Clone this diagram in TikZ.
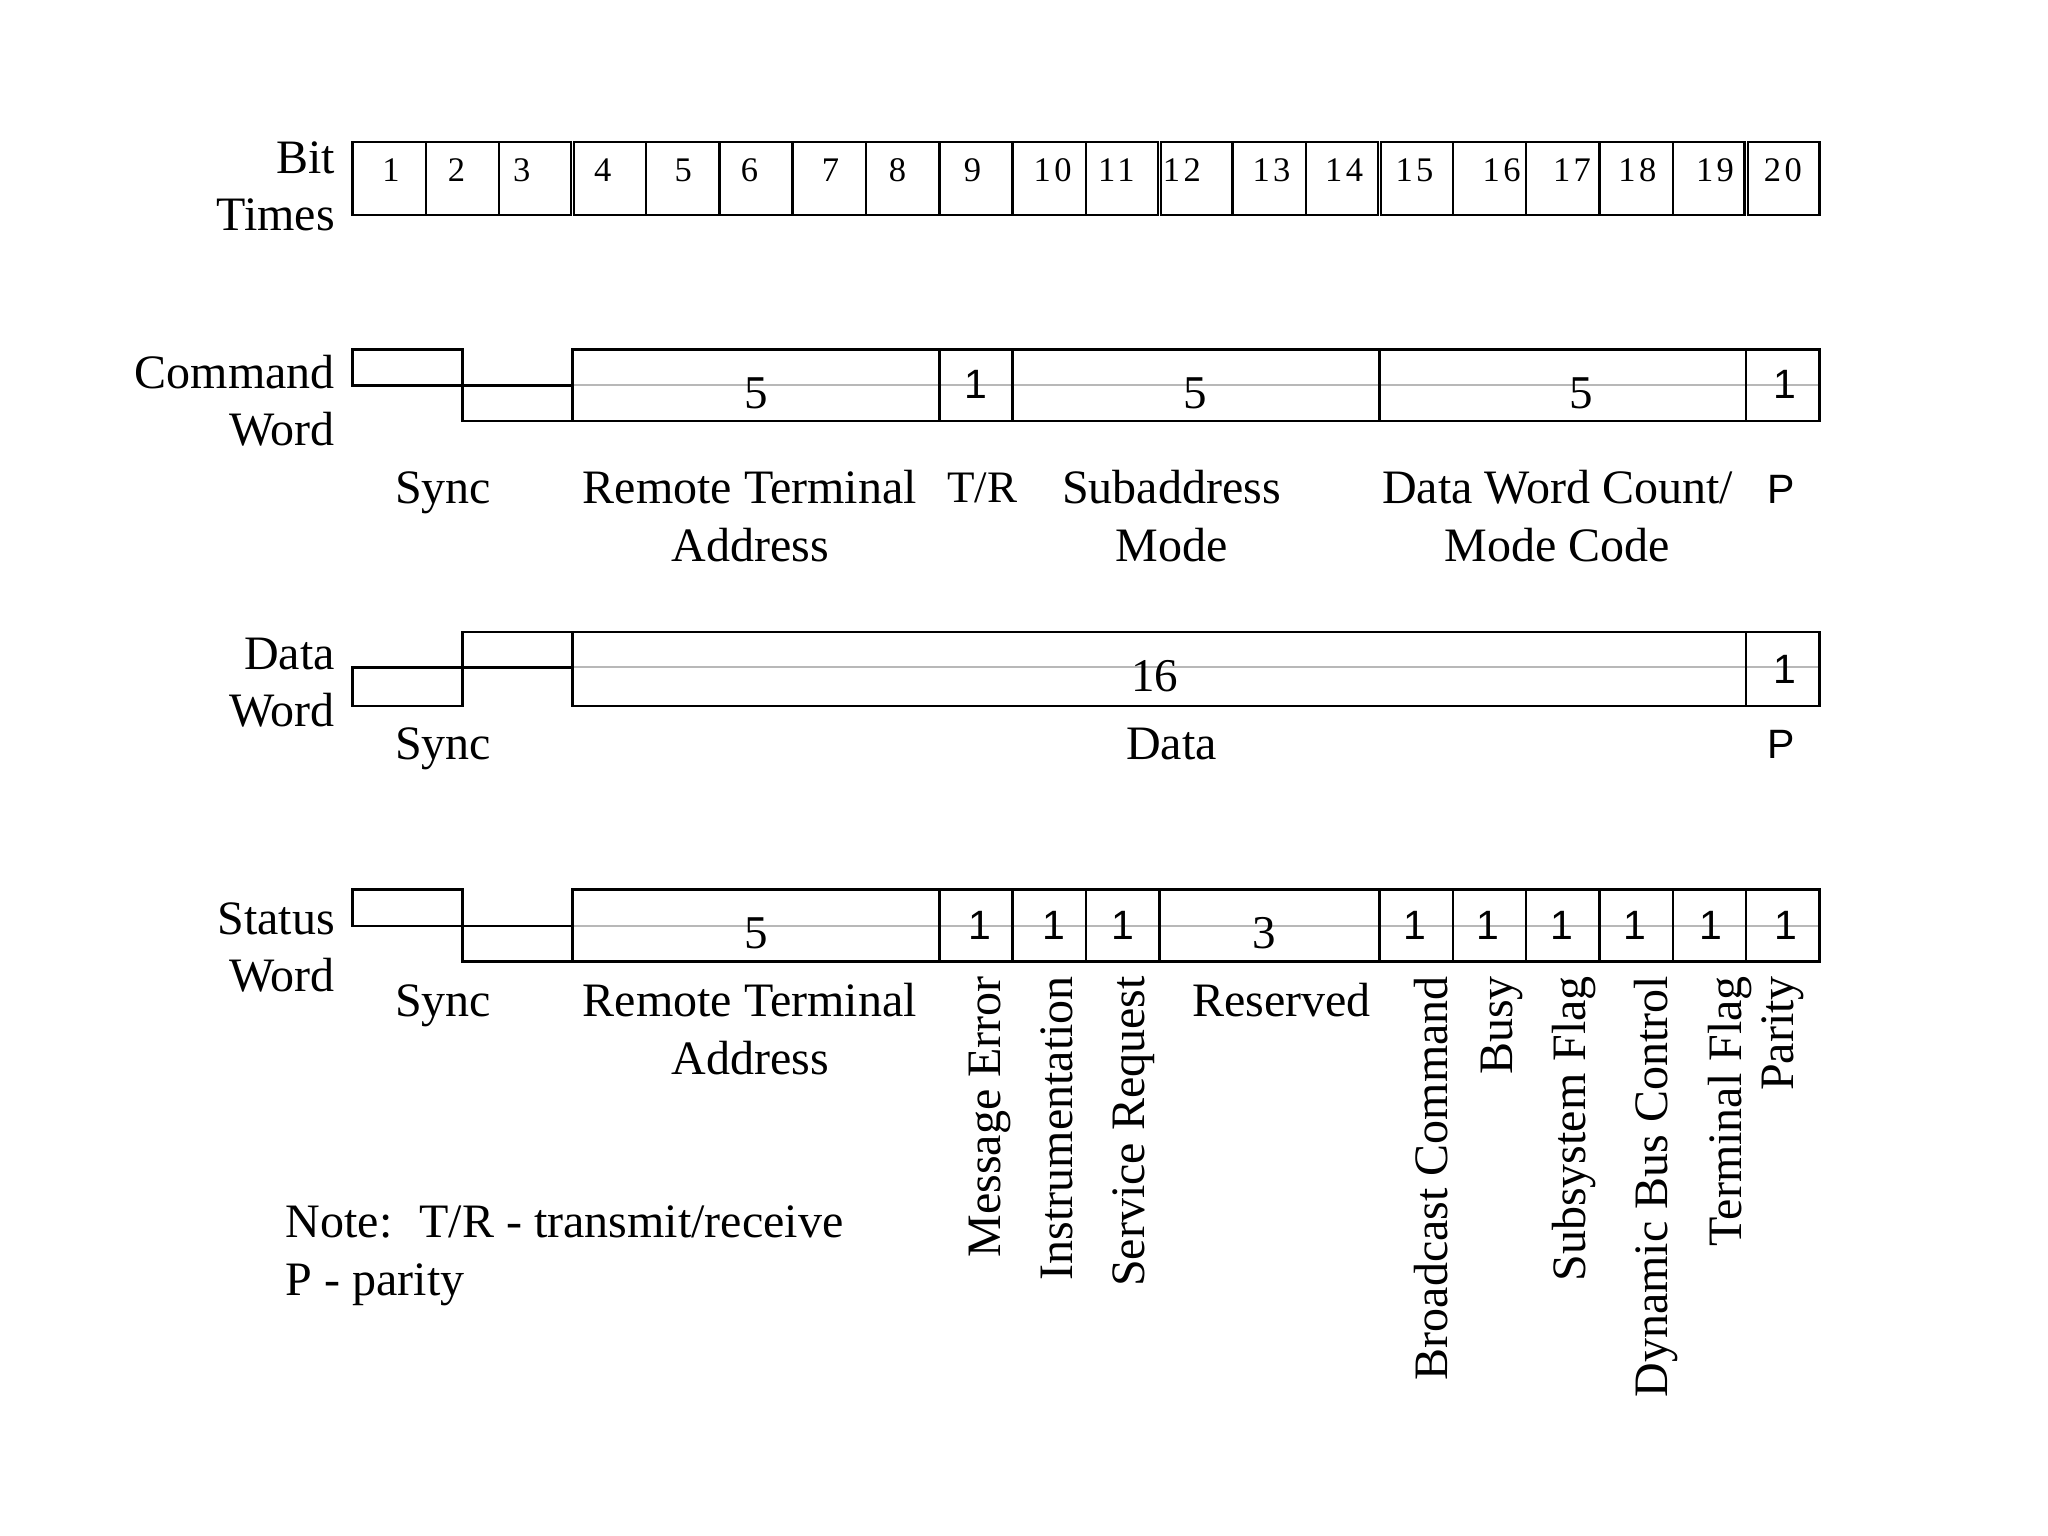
\documentclass[tikz,border=0pt]{standalone}
\usepackage{fontspec}
\setmainfont{Liberation Serif}
\newfontfamily\sansf{Liberation Sans}
\newfontfamily\bitf[LetterSpace=10]{Liberation Serif}
\tikzset{
  frame/.style={draw=black, line width=2.4pt},
  midline/.style={draw=black!28, line width=2pt},
  lbl/.style={inner sep=0pt, anchor=base, font=\fontsize{48}{58}\selectfont},
  rowlbl/.style={inner sep=0pt, anchor=base east, font=\fontsize{48}{58}\selectfont},
  notelbl/.style={inner sep=0pt, anchor=base west, font=\fontsize{48}{58}\selectfont},
  vlbl/.style={inner sep=0pt, rotate=90, anchor=base east, font=\fontsize{48}{58}\selectfont},
  bitnum/.style={inner sep=0pt, anchor=base, font=\bitf\fontsize{34.5}{40}\selectfont},
  fnum/.style={inner sep=0pt, anchor=base, font=\fontsize{47}{56}\selectfont},
  one/.style={inner sep=0pt, anchor=center, font=\sansf\fontsize{41}{48}\selectfont},
  sanslbl/.style={inner sep=0pt, anchor=base, font=\sansf\fontsize{41}{48}\selectfont},
  trlbl/.style={inner sep=0pt, anchor=base, font=\fontsize{45}{54}\selectfont},
}
\begin{document}
\begin{tikzpicture}[x=1pt,y=-1pt]
\fill[white] (0,0) rectangle (2048,1536);
\useasboundingbox (0,0) rectangle (2048,1536);

% ---------- row labels ----------
\node[rowlbl] (lbit) at (335,173.3) {Bit};
\node[rowlbl] (ltimes) at (335,230) {Times};
\node[rowlbl] (lcmd) at (335,388.5) {Command};
\node[rowlbl] (lcmdw) at (335,445.5) {Word};
\node[rowlbl] (ldata) at (335,669) {Data};
\node[rowlbl] (ldataw) at (335,726.5) {Word};
\node[rowlbl] (lstat) at (335,934) {Status};
\node[rowlbl] (lstatw) at (335,991.5) {Word};

% ---------- bit times ----------
\draw[frame] (352.6,142.3) rectangle (571.0,215);
\draw[frame] (574.2,142.3) rectangle (1157.7,215);
\draw[frame] (1161.0,142.3) rectangle (1377.7,215);
\draw[frame] (1381.0,142.3) rectangle (1744.4,215);
\draw[frame] (1747.7,142.3) rectangle (1819.4,215);
\foreach \x in {425.94,499.28,645.96,719.3,792.64,865.98,939.32,1012.66,1086,1232.68,1306.02,1452.7,1526.04,1599.38,1672.72}
  \draw[frame] (\x,142.3) -- (\x,215);
\foreach \n/\x in {1/390.9,2/456.5,3/521.8,4/602.7,5/683.2,6/749.6,7/830.5,8/897.4,9/972.6,10/1052.6,
                   11/1116.4,12/1181.8,13/1271.5,14/1344.2,15/1414.5,16/1501.7,17/1572,18/1637.4,19/1715,20/1782.9}
  \node[bitnum] (bt\n) at (\x,181.7) {\n};

% ---------- command word ----------
\draw[midline] (572.62,385.3) -- (1819.4,385.3);
\node[fnum] (c5a) at (756,408.3) {5};
\node[one] (c1a) at (975.5,384.7) {1};
\node[fnum] (c5b) at (1195,408.3) {5};
\node[fnum] (c5c) at (1581.7,408.3) {5};
\node[one] (c1b) at (1785,384.7) {1};
\draw[frame] (352.6,349.5) rectangle (462.61,385.3);
\draw[frame] (462.61,385.3) rectangle (572.62,421);
\draw[frame] (572.62,349.5) rectangle (1819.4,421);
\foreach \x in {939.32,1012.66,1379.36,1746.06}
  \draw[frame] (\x,349.5) -- (\x,421);

\node[lbl] (csync) at (443,503) {Sync};
\node[lbl] (crta) at (749.7,503) {Remote Terminal};
\node[lbl] (crtb) at (750.5,561.5) {Address};
\node[trlbl] (ctr) at (982,502) {T/R};
\node[lbl] (csaa) at (1171.6,503) {Subaddress};
\node[lbl] (csab) at (1171.6,561.5) {Mode};
\node[lbl] (cwca) at (1557.5,503) {Data Word Count/};
\node[lbl] (cwcb) at (1557.5,561.5) {Mode Code};
\node[sanslbl] (cp) at (1780.8,503) {P};

% ---------- data word ----------
\draw[midline] (572.62,667.4) -- (1819.4,667.4);
\node[fnum] (d16) at (1154.6,691) {16};
\node[one] (d1) at (1785,669) {1};
\draw[frame] (352.6,667.4) rectangle (462.61,706);
\draw[frame] (462.61,632) rectangle (572.62,667.4);
\draw[frame] (572.62,632) rectangle (1819.4,706);
\draw[frame] (1746.06,632) -- (1746.06,706);

\node[lbl] (dsync) at (443,759) {Sync};
\node[lbl] (ddata) at (1171.6,759) {Data};
\node[sanslbl] (dp) at (1780.8,758) {P};

% ---------- status word ----------
\draw[midline] (572.62,926) -- (1819.4,926);
\node[fnum] (s5) at (756,948.3) {5};
\node[fnum] (s3) at (1264,948.3) {3};
\foreach \n/\x in {a/979.6,b/1054,c/1122.5,d/1414.5,e/1487.6,f/1562,g/1635,h/1711,i/1785.4}
  \node[one] (s1\n) at (\x,925.5) {1};
\draw[frame] (352.6,889.5) rectangle (462.61,926);
\draw[frame] (462.61,926) rectangle (572.62,961.5);
\draw[frame] (572.62,889.5) rectangle (1819.4,961.5);
\foreach \x in {939.32,1012.66,1086,1159.34,1379.36,1452.7,1526.04,1599.38,1672.72,1746.06}
  \draw[frame] (\x,889.5) -- (\x,961.5);

\node[lbl] (ssync) at (443,1016.5) {Sync};
\node[lbl] (srta) at (749.7,1016.5) {Remote Terminal};
\node[lbl] (srtb) at (750.5,1074) {Address};
\node[lbl] (sres) at (1281.3,1016.5) {Reserved};

\node[vlbl] (vme) at (1000,976) {Message Error};
\node[vlbl] (vin) at (1072.7,976) {Instrumentation};
\node[vlbl] (vsr) at (1144.7,976) {Service Request};
\node[vlbl] (vbc) at (1447.5,976) {Broadcast Command};
\node[vlbl] (vbu) at (1512,976) {Busy};
\node[vlbl] (vsf) at (1585.4,976) {Subsystem Flag};
\node[vlbl] (vdb) at (1667.5,976) {Dynamic Bus Control};
\node[vlbl] (vtf) at (1741,976) {Terminal Flag};
\node[vlbl] (vpa) at (1793.7,976) {Parity};

% ---------- note ----------
\node[notelbl] (note1) at (285.7,1237) {Note:\hspace{27pt}T/R - transmit/receive};
\node[notelbl] (note2) at (285.7,1295) {P - parity};
\end{tikzpicture}
\end{document}
